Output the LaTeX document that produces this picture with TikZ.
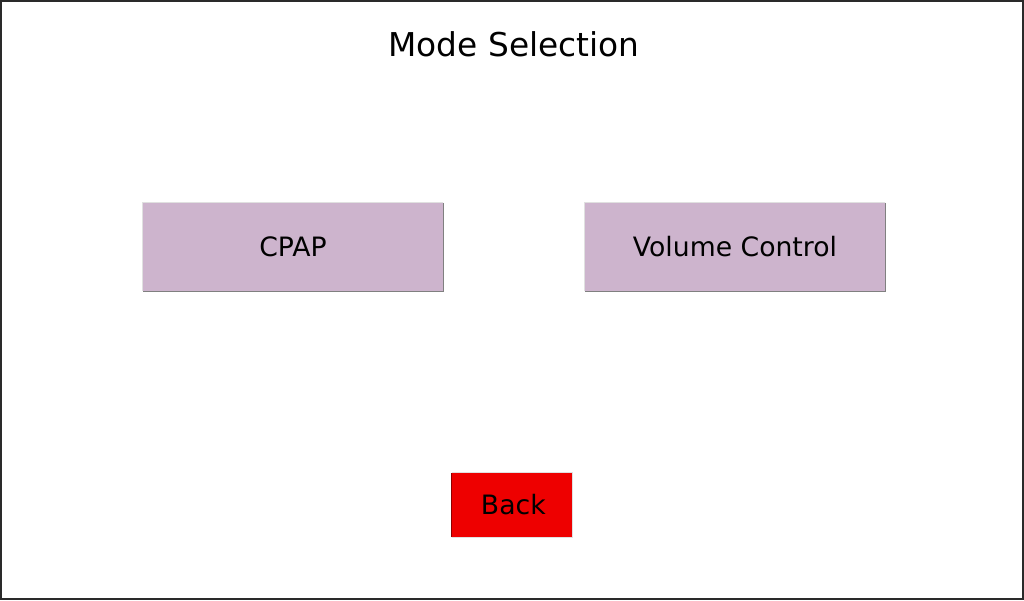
\documentclass[tikz,border=0pt]{standalone}
\usepackage{fontspec}
\setmainfont{DejaVu Sans}
\usetikzlibrary{positioning,calc}
\definecolor{lilac}{HTML}{CDB4CD}
\definecolor{backred}{HTML}{EE0000}
\definecolor{framegray}{HTML}{2A2A2A}
\tikzset{
  modebtn/.style={fill=lilac, minimum width=300*0.75pt, minimum height=88*0.75pt,
    inner sep=0pt, font=\fontsize{20pt}{24pt}\selectfont},
  backbtn/.style={fill=backred, minimum width=120*0.75pt, minimum height=64*0.75pt,
    inner sep=0pt, font=\fontsize{20pt}{24pt}\selectfont},
  hilite/.style={draw=black!12, line width=0.75pt},
  shade/.style={draw=black!50, line width=0.75pt}
}
\begin{document}
\begin{tikzpicture}[x={(0.75pt,0)}, y={(0,-0.75pt)}]
  % % Screen
  \useasboundingbox (0,0) rectangle (1024,600);
  \draw[framegray, line width=1.5pt] (1,1) rectangle (1023,599);

  % % Title
  \node[font=\fontsize{24.6pt}{29pt}\selectfont] (title) at (514,44) {Mode Selection};

  % % Buttons
  \node[modebtn] (cpap) at (293,247) {CPAP};
  \node[modebtn] (volume) at (735,247) {Volume Control};
  \node[backbtn] (back) at (512,505) {\hspace{2pt}Back};

  % % Bevels
  \foreach \b in {cpap,volume} {
    \draw[hilite] (\b.south west) -- (\b.north west) -- (\b.north east);
    \draw[shade] (\b.north east) -- (\b.south east) -- (\b.south west);
  }
  \draw[hilite] (back.north west) -- (back.north east) -- (back.south east) -- (back.south west);
  \draw[draw=backred!60!black, line width=0.75pt] (back.south west) -- (back.north west);
\end{tikzpicture}
\end{document}
